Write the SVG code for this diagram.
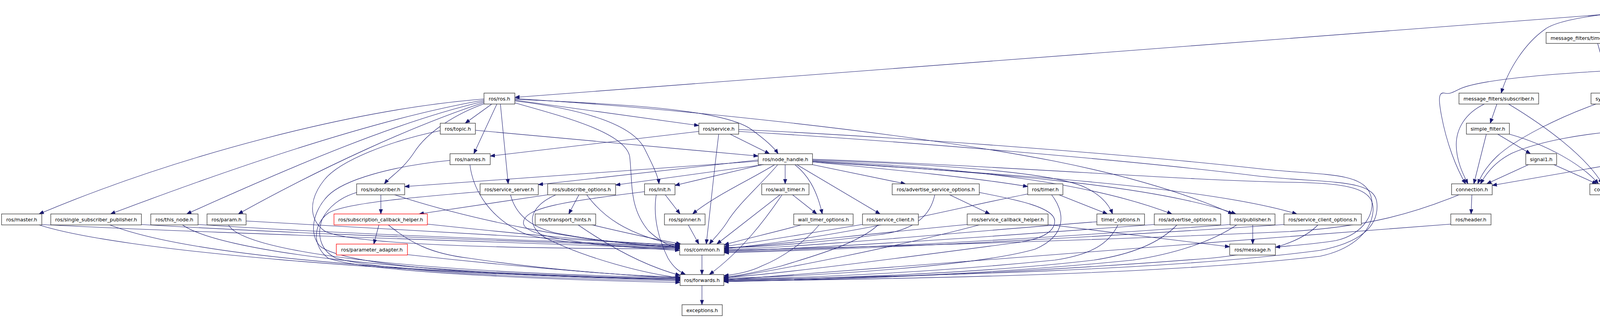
<svg xmlns="http://www.w3.org/2000/svg" width="5076" height="813" viewBox="0 0 5076 813">
<defs>
<style>
.n rect{fill:#fff;stroke:#333;stroke-width:1.3}
.n.g rect{stroke:#bfbfbf}
.n.r rect{stroke:#ff0000}
.n.root rect{fill:#bfbfbf}
.n text{font-family:"DejaVu Sans","Liberation Sans",sans-serif;font-size:12.7px;text-anchor:middle;fill:#000}
#edges path{fill:none;stroke:#191970;stroke-width:1.1;marker-end:url(#a)}
</style>
<marker id="a" markerWidth="12" markerHeight="10" refX="12" refY="5" orient="auto" markerUnits="userSpaceOnUse"><path d="M0,0.5 L12,5 L0,9.5 z" fill="#191970" stroke="#191970" stroke-width="1"/></marker>
</defs>
<rect width="5076" height="813" fill="#fff"/>
<g id="edges">
<path d="M4250,26 L1318,249"/>
<path d="M4250,24 C4120,32 3990,48 3955,75 C3905,110 3862,175 3843,238"/>
<path d="M4293,34 L4133,83"/>
<path d="M4341,34 L4341,83"/>
<path d="M4382,34 L4523,83"/>
<path d="M4421,34 L4699,83"/>
<path d="M4432,28 L4905,83"/>
<path d="M4764,111 L4708,161"/>
<path d="M4781,111 L4781,161"/>
<path d="M4797,111 L4853,161"/>
<path d="M4112,111 L4203,161"/>
<path d="M4090,111 L4125,238"/>
<path d="M4212,189 L4148,238"/>
<path d="M4133,180 C3950,190 3790,205 3740,226 C3722,234 3712,242 3698,238 C3680,234 3684,262 3690,295 C3703,365 3728,430 3752,470"/>
<path d="M4230,189 L4246,315"/>
<path d="M4243,189 C4290,230 4318,290 4302,330 C4292,355 4272,377 4252,393"/>
<path d="M4257,189 C4330,240 4338,300 4328,360 C4320,410 4280,445 4174,477"/>
<path d="M4210,331 C4050,338 3930,365 3870,392 C3830,412 3805,442 3790,470"/>
<path d="M4241,343 L4222,393"/>
<path d="M4260,343 C4284,390 4282,432 4242,455 C4222,466 4200,472 4174,475"/>
<path d="M4086,266 C3990,300 3880,355 3832,400 C3806,425 3791,450 3783,470"/>
<path d="M4130,266 L4123,470"/>
<path d="M4138,266 L4199,393"/>
<path d="M4153,266 L4226,315"/>
<path d="M3800,266 C3750,290 3728,330 3728,370 C3728,410 3745,445 3758,470"/>
<path d="M3832,266 L3815,315"/>
<path d="M3862,266 C3960,325 4060,400 4102,470"/>
<path d="M3805,343 L3773,470"/>
<path d="M3834,343 L3918,393"/>
<path d="M3864,343 C3960,370 4050,420 4092,470"/>
<path d="M3913,421 L3806,470"/>
<path d="M3978,421 L4088,470"/>
<path d="M4160,415 L3820,474"/>
<path d="M4193,421 L4140,470"/>
<path d="M3768,498 L3766,547"/>
<path d="M3735,498 C3620,545 3500,580 3300,592 C2800,615 2200,632 1854,640"/>
<path d="M3714,573 L1853,716"/>
<path d="M1239,253 C900,280 450,400 100,547"/>
<path d="M1239,256 C980,300 620,420 283,547"/>
<path d="M1239,259 C1020,310 760,420 478,547"/>
<path d="M1239,262 C1060,320 820,430 610,547"/>
<path d="M1259,266 L1191,315"/>
<path d="M1272,266 L1213,393"/>
<path d="M1240,265 C1170,290 1095,335 1060,390 C1030,435 1000,450 984,470"/>
<path d="M1281,266 L1301,470"/>
<path d="M1318,258 C1500,280 1620,320 1650,380 C1670,420 1685,450 1687,470"/>
<path d="M1318,263 C1450,300 1600,340 1612,400 C1620,470 1610,530 1660,590 C1690,618 1715,630 1740,636"/>
<path d="M1318,256 L1789,321"/>
<path d="M1318,254 C1600,266 1850,280 1922,330 C1958,356 1980,375 1992,393"/>
<path d="M1318,252 C1700,275 2300,335 2700,412 C2900,452 3050,500 3156,547"/>
<path d="M1217,333 L1941,399"/>
<path d="M1127,334 C1000,360 870,410 830,460 C790,510 790,560 830,590 C900,630 1400,636 1740,636"/>
<path d="M1203,421 C1210,480 1250,560 1350,600 C1450,625 1600,632 1740,633"/>
<path d="M1152,410 C1000,425 880,460 840,500 C800,540 790,600 820,630 C900,690 1400,710 1741,714"/>
<path d="M1789,336 L1255,399"/>
<path d="M1840,343 C1830,420 1820,520 1808,624"/>
<path d="M1869,343 L1970,393"/>
<path d="M1891,331 C2300,350 2900,395 3230,432 C3380,448 3480,440 3505,490 C3530,540 3490,600 3420,615 C3360,625 3300,628 3265,632"/>
<path d="M1891,336 C2300,360 2900,410 3220,450 C3400,470 3520,455 3525,520 C3530,580 3480,620 3380,640 C3000,690 2400,705 1853,716"/>
<path d="M2080,407 C2600,425 3000,460 3300,466 C3450,468 3520,480 3515,540 C3510,600 3450,640 3380,655 C3000,700 2400,712 1853,719"/>
<path d="M1941,412 L1036,477"/>
<path d="M1941,409 L1378,472"/>
<path d="M1955,421 L1576,473"/>
<path d="M1951,421 L1728,474"/>
<path d="M1983,421 C1920,460 1830,500 1773,547"/>
<path d="M1991,421 C1950,470 1890,520 1860,570 C1840,600 1825,612 1816,624"/>
<path d="M2010,421 L2010,470"/>
<path d="M2035,421 C2065,445 2090,480 2105,547"/>
<path d="M2040,421 L2253,547"/>
<path d="M2080,421 L2318,470"/>
<path d="M2080,414 C2300,435 2500,455 2631,477"/>
<path d="M2080,409 C2400,420 2700,440 2780,480 C2820,500 2840,525 2848,547"/>
<path d="M2080,411 C2500,430 2800,470 3000,547"/>
<path d="M2080,412 C2500,440 2950,470 3164,547"/>
<path d="M2080,414 C2600,445 3100,480 3320,547"/>
<path d="M975,498 L975,547"/>
<path d="M1010,498 C1200,560 1500,625 1740,630"/>
<path d="M913,492 C870,505 840,530 825,560 C810,600 820,640 860,660 C1000,700 1500,715 1741,718"/>
<path d="M1307,498 C1320,550 1360,580 1420,595 C1520,615 1650,628 1740,634"/>
<path d="M1229,490 C1050,505 880,520 840,545 C800,575 800,630 840,660 C950,700 1500,718 1741,722"/>
<path d="M1402,498 L1073,547"/>
<path d="M1482,498 L1456,547"/>
<path d="M1502,498 C1540,550 1600,600 1740,628"/>
<path d="M1423,498 C1350,530 1345,580 1400,610 C1500,660 1650,700 1741,710"/>
<path d="M1703,498 L1741,547"/>
<path d="M1650,490 C1450,515 1340,530 1340,570 C1340,610 1550,630 1740,640"/>
<path d="M1680,498 C1670,560 1690,620 1710,660 C1725,685 1740,695 1755,702"/>
<path d="M1997,498 L1835,624"/>
<path d="M2002,498 C1960,560 1900,640 1816,702"/>
<path d="M2029,498 L2091,547"/>
<path d="M2393,498 C2380,560 2330,590 2250,600 C2100,620 1950,632 1854,633"/>
<path d="M2431,498 L2534,547"/>
<path d="M2507,492 C2600,510 2700,530 2700,565 C2700,600 2650,615 2590,622 C2300,660 2000,700 1853,710"/>
<path d="M2631,496 C2450,530 2200,600 1854,636"/>
<path d="M2692,498 C2725,540 2735,600 2650,637 C2500,680 2100,705 1853,712"/>
<path d="M2711,498 L2835,547"/>
<path d="M107,574 C500,595 1200,615 1740,636"/>
<path d="M100,575 C300,640 1000,700 1741,716"/>
<path d="M362,574 C800,600 1300,615 1740,632"/>
<path d="M281,575 C500,660 1100,700 1741,714"/>
<path d="M507,574 C900,600 1400,615 1740,630"/>
<path d="M467,575 C560,640 1000,700 1741,712"/>
<path d="M630,565 C1000,585 1400,610 1740,628"/>
<path d="M585,575 C620,640 1000,695 1741,710"/>
<path d="M970,575 L957,624"/>
<path d="M1094,573 C1300,595 1550,620 1740,626"/>
<path d="M994,575 C1050,620 1100,648 1200,660 C1400,690 1600,705 1741,708"/>
<path d="M1043,651 C1300,680 1550,700 1741,712"/>
<path d="M1512,574 C1600,595 1680,612 1743,624"/>
<path d="M1480,575 C1560,630 1650,680 1741,704"/>
<path d="M1762,575 L1789,624"/>
<path d="M2051,575 C1980,595 1900,612 1854,626"/>
<path d="M2097,575 C2060,620 2000,660 1950,680 C1920,695 1880,702 1853,705"/>
<path d="M2207,574 C2050,600 1920,622 1854,630"/>
<path d="M2248,575 C2200,620 2100,650 2000,680 C1940,695 1890,706 1853,708"/>
<path d="M2476,574 C2200,600 1950,630 1854,635"/>
<path d="M2507,575 C2300,630 2000,690 1853,711"/>
<path d="M2683,574 L3148,631"/>
<path d="M2808,567 C2500,590 2100,630 1854,638"/>
<path d="M2862,575 C2840,620 2800,650 2700,665 C2400,695 2100,710 1853,714"/>
<path d="M2955,574 C2600,600 2200,630 1854,642"/>
<path d="M3013,575 C2970,620 2900,650 2800,665 C2500,700 2100,713 1853,716"/>
<path d="M3207,575 L3207,624"/>
<path d="M3149,574 C2800,600 2300,632 1854,644"/>
<path d="M3166,575 C3100,620 3000,650 2900,665 C2500,705 2100,715 1853,718"/>
<path d="M3288,574 C2900,600 2300,635 1854,646"/>
<path d="M3374,575 C3330,620 3250,645 3100,660 C2600,700 2100,716 1853,720"/>
<path d="M1797,652 L1797,702"/>
<path d="M1797,730 L1797,779"/>
</g>
<g id="n0" class="n root"><rect x="4250" y="6" width="182" height="28"/><text x="4341" y="24.5">utm_odometry_node.cpp</text></g>
<g id="n1" class="n"><rect x="3958" y="83" width="254" height="28"/><text x="4085" y="101.5">message_filters/time_synchronizer.h</text></g>
<g id="n2" class="n g"><rect x="4235" y="83" width="212" height="28"/><text x="4341" y="101.5">sensor_msgs/NavSatStatus.h</text></g>
<g id="n3" class="n g"><rect x="4471" y="83" width="186" height="28"/><text x="4564" y="101.5">sensor_msgs/NavSatFix.h</text></g>
<g id="n4" class="n"><rect x="4681" y="83" width="201" height="28"/><text x="4781.5" y="101.5">gps_common/conversions.h</text></g>
<g id="n5" class="n g"><rect x="4905" y="83" width="166" height="28"/><text x="4988" y="101.5">nav_msgs/Odometry.h</text></g>
<g id="n6" class="n"><rect x="4133" y="161" width="193" height="28"/><text x="4229.5" y="179.5">sync_policies/exact_time.h</text></g>
<g id="n7" class="n g"><rect x="4659" y="161" width="65" height="28"/><text x="4691.5" y="179.5">stdio.h</text></g>
<g id="n8" class="n g"><rect x="4747" y="161" width="68" height="28"/><text x="4781" y="179.5">stdlib.h</text></g>
<g id="n9" class="n g"><rect x="4838" y="161" width="63" height="28"/><text x="4869.5" y="179.5">cmath</text></g>
<g id="n10" class="n"><rect x="1239" y="238" width="79" height="28"/><text x="1278.5" y="256.5">ros/ros.h</text></g>
<g id="n11" class="n"><rect x="3735" y="238" width="204" height="28"/><text x="3837" y="256.5">message_filters/subscriber.h</text></g>
<g id="n12" class="n"><rect x="4073" y="238" width="115" height="28"/><text x="4130.5" y="256.5">synchronizer.h</text></g>
<g id="n13" class="n"><rect x="1127" y="315" width="90" height="28"/><text x="1172" y="333.5">ros/topic.h</text></g>
<g id="n14" class="n"><rect x="1789" y="315" width="102" height="28"/><text x="1840" y="333.5">ros/service.h</text></g>
<g id="n15" class="n"><rect x="3754" y="315" width="110" height="28"/><text x="3809" y="333.5">simple_filter.h</text></g>
<g id="n16" class="n"><rect x="4210" y="315" width="78" height="28"/><text x="4249" y="333.5">signal9.h</text></g>
<g id="n17" class="n"><rect x="1152" y="393" width="103" height="28"/><text x="1203.5" y="411.5">ros/names.h</text></g>
<g id="n18" class="n"><rect x="1941" y="393" width="139" height="28"/><text x="2010.5" y="411.5">ros/node_handle.h</text></g>
<g id="n19" class="n"><rect x="3906" y="393" width="79" height="28"/><text x="3945.5" y="411.5">signal1.h</text></g>
<g id="n20" class="n"><rect x="4160" y="393" width="99" height="28"/><text x="4209.5" y="411.5">null_types.h</text></g>
<g id="n21" class="n"><rect x="913" y="470" width="123" height="28"/><text x="974.5" y="488.5">ros/subscriber.h</text></g>
<g id="n22" class="n"><rect x="1229" y="470" width="149" height="28"/><text x="1303.5" y="488.5">ros/service_server.h</text></g>
<g id="n23" class="n"><rect x="1402" y="470" width="174" height="28"/><text x="1489" y="488.5">ros/subscribe_options.h</text></g>
<g id="n24" class="n"><rect x="1650" y="470" width="78" height="28"/><text x="1689" y="488.5">ros/init.h</text></g>
<g id="n25" class="n"><rect x="1950" y="470" width="121" height="28"/><text x="2010.5" y="488.5">ros/wall_timer.h</text></g>
<g id="n26" class="n"><rect x="2284" y="470" width="223" height="28"/><text x="2395.5" y="488.5">ros/advertise_service_options.h</text></g>
<g id="n27" class="n"><rect x="2631" y="470" width="90" height="28"/><text x="2676" y="488.5">ros/timer.h</text></g>
<g id="n28" class="n"><rect x="3716" y="470" width="104" height="28"/><text x="3768" y="488.5">connection.h</text></g>
<g id="n29" class="n"><rect x="4070" y="470" width="104" height="28"/><text x="4122" y="488.5">connection.h</text></g>
<g id="n30" class="n"><rect x="4" y="547" width="103" height="28"/><text x="55.5" y="565.5">ros/master.h</text></g>
<g id="n31" class="n"><rect x="130" y="547" width="232" height="28"/><text x="246" y="565.5">ros/single_subscriber_publisher.h</text></g>
<g id="n32" class="n"><rect x="386" y="547" width="121" height="28"/><text x="446.5" y="565.5">ros/this_node.h</text></g>
<g id="n33" class="n"><rect x="530" y="547" width="100" height="28"/><text x="580" y="565.5">ros/param.h</text></g>
<g id="n34" class="n r"><rect x="855" y="547" width="239" height="28"/><text x="974.5" y="565.5">ros/subscription_callback_helper.h</text></g>
<g id="n35" class="n"><rect x="1370" y="547" width="155" height="28"/><text x="1447.5" y="565.5">ros/transport_hints.h</text></g>
<g id="n36" class="n"><rect x="1701" y="547" width="104" height="28"/><text x="1753" y="565.5">ros/spinner.h</text></g>
<g id="n37" class="n"><rect x="2032" y="547" width="152" height="28"/><text x="2108" y="565.5">wall_timer_options.h</text></g>
<g id="n38" class="n"><rect x="2208" y="547" width="143" height="28"/><text x="2279.5" y="565.5">ros/service_client.h</text></g>
<g id="n39" class="n"><rect x="2476" y="547" width="207" height="28"/><text x="2579.5" y="565.5">ros/service_callback_helper.h</text></g>
<g id="n40" class="n"><rect x="2808" y="547" width="122" height="28"/><text x="2869" y="565.5">timer_options.h</text></g>
<g id="n41" class="n"><rect x="2955" y="547" width="170" height="28"/><text x="3040" y="565.5">ros/advertise_options.h</text></g>
<g id="n42" class="n"><rect x="3149" y="547" width="115" height="28"/><text x="3206.5" y="565.5">ros/publisher.h</text></g>
<g id="n43" class="n"><rect x="3287" y="547" width="198" height="28"/><text x="3386" y="565.5">ros/service_client_options.h</text></g>
<g id="n44" class="n"><rect x="3714" y="547" width="103" height="28"/><text x="3765.5" y="565.5">ros/header.h</text></g>
<g id="n45" class="n r"><rect x="861" y="624" width="182" height="28"/><text x="952" y="642.5">ros/parameter_adapter.h</text></g>
<g id="n46" class="n"><rect x="1740" y="624" width="114" height="28"/><text x="1797" y="642.5">ros/common.h</text></g>
<g id="n47" class="n"><rect x="3148" y="624" width="117" height="28"/><text x="3206.5" y="642.5">ros/message.h</text></g>
<g id="n48" class="n"><rect x="1741" y="702" width="112" height="28"/><text x="1797" y="720.5">ros/forwards.h</text></g>
<g id="n49" class="n"><rect x="1746" y="779" width="103" height="28"/><text x="1797.5" y="797.5">exceptions.h</text></g>
</svg>
